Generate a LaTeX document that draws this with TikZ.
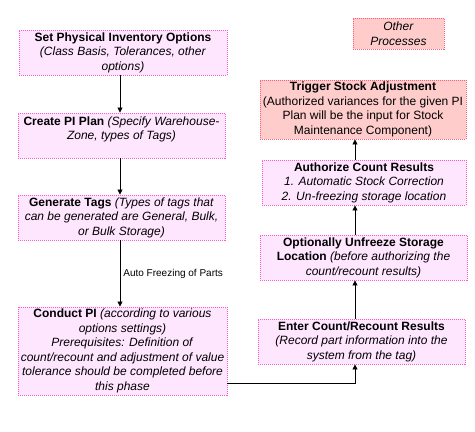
\documentclass[tikz,border=0pt]{standalone}
\usepackage{fontspec}
\setmainfont{Liberation Sans}
\usetikzlibrary{arrows.meta}
\definecolor{pifill}{RGB}{255,230,255}
\definecolor{piline}{RGB}{255,90,200}
\definecolor{adjfill}{RGB}{255,204,204}
\definecolor{adjline}{RGB}{255,90,120}
\begin{document}
\begin{tikzpicture}[x=1pt, y=-1pt,
  pibox/.style={draw=piline, fill=pifill, line width=0.9pt, dash pattern=on 1pt off 1pt, align=center, inner sep=1pt, font=\fontsize{12}{14.5}\selectfont},
  adjbox/.style={pibox, draw=adjline, fill=adjfill},
  flow/.style={draw=black, line width=0.8pt, -{Triangle[length=5pt,width=5pt]}}]
\useasboundingbox (0,0) rectangle (475,432);
\coordinate (lx) at (120,0);
\coordinate (rx) at (355,0);
\coordinate (turn) at (355,383);
\node[pibox, minimum width=208pt, minimum height=45pt] (setopt) at (123,52.5) {\textbf{Set Physical Inventory Options}\\ \textit{(Class Basis, Tolerances, other}\\ \textit{options)}};
\node[pibox, minimum width=207pt, minimum height=45pt] (plan) at (121.5,135.5) {\textbf{Create PI Plan} \textit{(Specify Warehouse-}\\ \textit{Zone, types of Tags)}\\ \mbox{}};
\node[pibox, minimum width=207pt, minimum height=45pt] (tags) at (121.5,217.5) {\textbf{Generate Tags} \textit{(Types of tags that}\\ \textit{can be generated are General, Bulk,}\\ \textit{or Bulk Storage)}};
\node[pibox, minimum width=209pt, minimum height=88pt] (conduct) at (122.5,351) {\textbf{Conduct PI} \textit{(according to various}\\ \textit{options settings)}\\ \textit{Prerequisites: Definition of}\\ \textit{count/recount and adjustment of value}\\ \textit{tolerance should be completed before}\\ \textit{this phase}};
\node[adjbox, minimum width=91pt, minimum height=31pt] (other) at (398.5,33.5) {\textit{Other}\\ \textit{Processes}};
\node[adjbox, minimum width=206pt, minimum height=59pt] (trigger) at (363,109.5) {\textbf{Trigger Stock Adjustment}\\ (Authorized variances for the given PI\\ Plan will be the input for Stock\\ Maintenance Component)};
\node[pibox, minimum width=204pt, minimum height=45pt] (authorize) at (364,182.5) {\textbf{Authorize Count Results}\\ \textit{1. Automatic Stock Correction}\\ \textit{2. Un-freezing storage location}};
\node[pibox, minimum width=207pt, minimum height=45pt] (unfreeze) at (363.5,257.5) {\textbf{Optionally Unfreeze Storage}\\ \textbf{Location} \textit{(before authorizing the}\\ \textit{count/recount results)}};
\node[pibox, minimum width=207pt, minimum height=45pt] (enter) at (361.5,341.5) {\textbf{Enter Count/Recount Results}\\ \textit{(Record part information into the}\\ \textit{system from the tag)}};
\draw[flow] (setopt.south -| lx) -- (plan.north -| lx);
\draw[flow] (plan.south -| lx) -- (tags.north -| lx);
\draw[flow] (tags.south -| lx) -- (conduct.north -| lx) node[pos=0.5, right, inner sep=3pt, font=\fontsize{10}{12}\selectfont] (freeze) {Auto Freezing of Parts};
\draw[flow] (conduct.east |- turn) -- (turn) -- (enter.south -| turn);
\draw[flow] (enter.north -| rx) -- (unfreeze.south -| rx);
\draw[flow] (unfreeze.north -| rx) -- (authorize.south -| rx);
\draw[flow] (authorize.north -| rx) -- (trigger.south -| rx);
\end{tikzpicture}
\end{document}
